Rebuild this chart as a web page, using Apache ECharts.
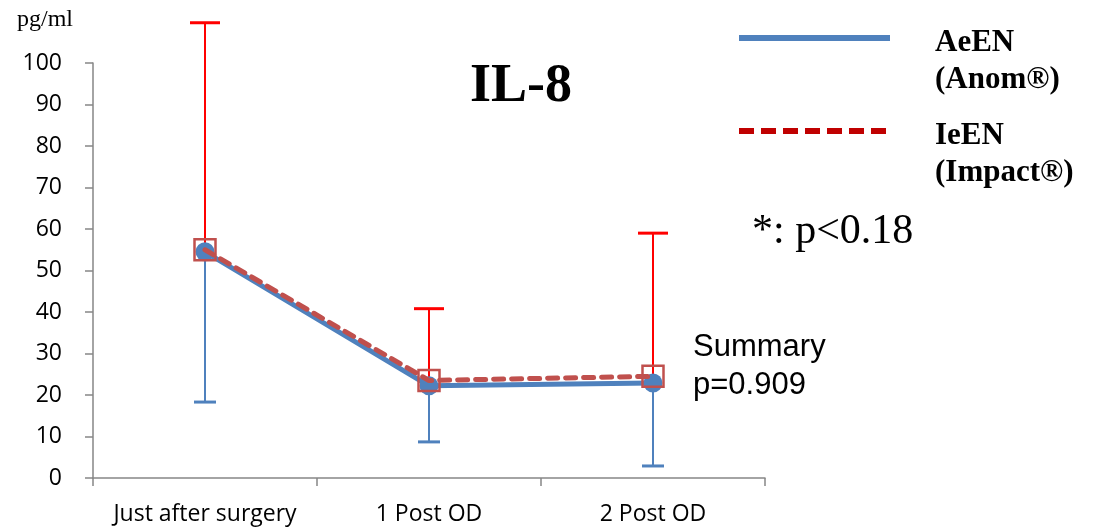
<!DOCTYPE html>
<html><head><meta charset="utf-8">
<script src="https://cdn.jsdelivr.net/npm/echarts@6/dist/echarts.min.js"></script>
<style>html,body{margin:0;padding:0;background:#fff;}#c{width:1099px;height:528px;}</style>
</head><body><div id="c"></div>
<script>
const categories = ['Just after surgery', '1 Post OD', '2 Post OD'];
const aeenMean = [54.5, 22.2, 22.9];
const aeenLower = [18.3, 8.7, 2.9];
const ieenMean = [55.0, 23.5, 24.5];
const ieenUpper = [109.7, 40.8, 59.0];
const yTicks = [0, 10, 20, 30, 40, 50, 60, 70, 80, 90, 100];

const chart = echarts.init(document.getElementById('c'));

function errBar(color, capW, lw) {
  return function (params, api) {
    const p0 = api.coord([api.value(0), api.value(1)]);
    const p1 = api.coord([api.value(0), api.value(2)]);
    const st = { stroke: color, lineWidth: lw };
    return {
      type: 'group',
      children: [
        { type: 'line', shape: { x1: p0[0], y1: p0[1], x2: p1[0], y2: p1[1] }, style: st },
        { type: 'line', shape: { x1: p1[0] - capW / 2, y1: p1[1], x2: p1[0] + capW / 2, y2: p1[1] }, style: { stroke: color, lineWidth: 3 } }
      ]
    };
  };
}

const blueErrData = categories.map((c, i) => [i, aeenMean[i], aeenLower[i]]);
const redErrData = categories.map((c, i) => [i, ieenMean[i], ieenUpper[i]]);

chart.setOption({
  animation: false,
  grid: { left: 93, right: 334, top: 63, bottom: 50 },
  xAxis: {
    type: 'category',
    data: categories,
    boundaryGap: true,
    axisLine: { lineStyle: { color: '#868686', width: 1.5 } },
    axisTick: { show: true, interval: 0, length: 8, lineStyle: { color: '#868686', width: 1.5 } },
    axisLabel: { interval: 0, hideOverlap: false, color: '#000', fontFamily: 'Open Sans', fontSize: 23, margin: 25 }
  },
  yAxis: {
    type: 'value',
    min: 0, max: 100, interval: 10,
    splitLine: { show: false },
    axisLine: { show: true, lineStyle: { color: '#868686', width: 1.5 } },
    axisTick: { show: true, length: 8, lineStyle: { color: '#868686', width: 1.5 } },
    axisLabel: { color: '#000', fontFamily: 'Open Sans', fontSize: 23, margin: 31,
      formatter: v => yTicks.includes(v) ? String(v) : '' }
  },
  series: [
    {
      type: 'custom', name: 'aeenErr', data: blueErrData, clip: false, z: 1,
      renderItem: errBar('#4f81bd', 22, 2)
    },
    {
      type: 'custom', name: 'ieenErr', data: redErrData, clip: false, z: 1,
      renderItem: errBar('#ff0000', 30, 2)
    },
    {
      type: 'line', name: 'AeEN', data: aeenMean, z: 3,
      lineStyle: { color: '#4f81bd', width: 5 },
      symbol: 'circle', symbolSize: 19,
      itemStyle: { color: '#4f81bd' }
    },
    {
      type: 'line', name: 'IeEN', data: ieenMean, z: 4,
      lineStyle: { color: '#c0504d', width: 5, type: [10, 8], cap: 'round' },
      symbol: 'rect', symbolSize: 21,
      itemStyle: { color: 'rgba(0,0,0,0)', borderColor: '#c0504d', borderWidth: 2.5 }
    }
  ],
  graphic: [
    { type: 'text', left: 17, top: 8, style: { text: 'pg/ml', font: '24px "Liberation Serif"', fill: '#000' } },
    { type: 'text', left: 470, top: 60, style: { text: 'IL-8', font: 'bold 54px "Liberation Serif"', fill: '#000' } },
    { type: 'line', shape: { x1: 739, y1: 38, x2: 890, y2: 38 }, style: { stroke: '#4f81bd', lineWidth: 6 } },
    { type: 'line', shape: { x1: 739, y1: 131, x2: 890, y2: 131 }, style: { stroke: '#c00000', lineWidth: 6, lineDash: [15, 7] } },
    { type: 'text', left: 935, top: 24, style: { text: 'AeEN\n(Anom®)', font: 'bold 31px "Liberation Serif"', lineHeight: 37, fill: '#000' } },
    { type: 'text', left: 935, top: 117, style: { text: 'IeEN\n(Impact®)', font: 'bold 31px "Liberation Serif"', lineHeight: 37, fill: '#000' } },
    { type: 'text', left: 752, top: 211, style: { text: '*: p<0.18', font: '42px "Liberation Serif"', fill: '#000' } },
    { type: 'text', left: 693, top: 328, style: { text: 'Summary\np=0.909', font: '31px "Liberation Sans"', lineHeight: 38, fill: '#000' } }
  ]
});
</script></body></html>
